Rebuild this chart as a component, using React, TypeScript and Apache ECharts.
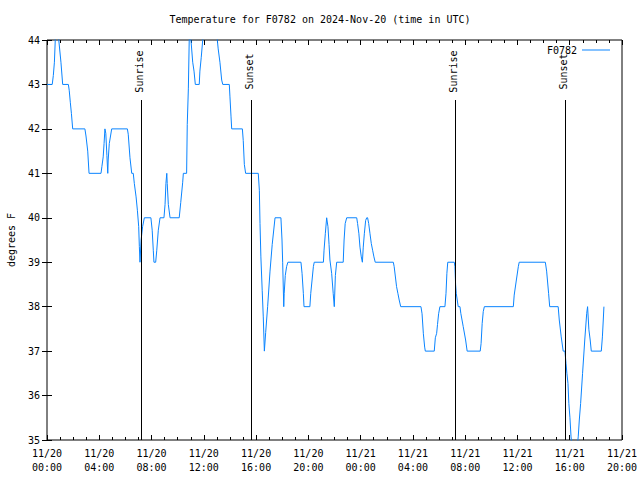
import React, { useEffect, useRef } from "react";
import * as echarts from "echarts";

// minutes since 2024-11-20 00:00 UTC
const timesMin = [
  0, 24, 29, 34, 38, 46, 54, 64, 72, 98, 102, 107, 112, 118, 174, 179, 187, 193, 248, 252,
  258, 262, 266, 270, 275, 279, 281, 286, 297, 369, 373, 381, 389, 396, 401, 409, 415, 421, 424, 427,
  432, 439, 447, 477, 483, 488, 491, 499, 504, 511, 519, 537, 542, 546, 550, 552, 557, 565, 607, 614,
  623, 626, 641, 644, 649, 653, 657, 661, 669, 675, 681, 699, 702, 708, 715, 730, 750, 770, 782, 786,
  794, 802, 807, 837, 840, 845, 848, 897, 901, 906, 912, 970, 975, 978, 982, 988, 993, 998, 1004, 1013,
  1024, 1034, 1047, 1074, 1079, 1082, 1087, 1089, 1094, 1100, 1106, 1166, 1171, 1177, 1180, 1207, 1211, 1217, 1223, 1227,
  1269, 1272, 1278, 1284, 1290, 1295, 1299, 1307, 1314, 1319, 1324, 1330, 1360, 1364, 1369, 1376, 1422, 1426, 1432, 1437,
  1443, 1448, 1452, 1457, 1463, 1468, 1472, 1477, 1483, 1489, 1495, 1501, 1507, 1590, 1594, 1605, 1611, 1617, 1624, 1717,
  1722, 1728, 1734, 1737, 1778, 1783, 1789, 1793, 1798, 1804, 1827, 1832, 1836, 1840, 1870, 1873, 1876, 1879, 1888, 1896,
  1900, 1911, 1922, 1929, 1989, 1993, 1998, 2003, 2008, 2141, 2145, 2155, 2164, 2168, 2288, 2294, 2303, 2308, 2347, 2352,
  2361, 2370, 2378, 2383, 2387, 2392, 2396, 2401, 2406, 2422, 2439, 2444, 2450, 2459, 2469, 2478, 2482, 2488, 2494, 2499,
  2545, 2550, 2554, 2557,
];
const tempsF = [
  43, 43, 43.2, 43.5, 44, 44.8, 44, 43.5, 43, 43, 42.87, 42.6, 42.35, 42, 42, 41.84, 41.5, 41, 41, 41.15,
  41.37, 41.67, 42, 41.9, 41.4, 41, 41.3, 41.67, 42, 42, 41.88, 41.35, 41, 41, 40.77, 40.47, 40.17, 39.8, 39.35, 39,
  39.5, 39.8, 40, 40, 39.72, 39.27, 39, 39, 39.27, 39.72, 40, 40, 40.3, 40.77, 41, 40.77, 40.3, 40, 40, 40.34,
  40.8, 41, 41, 42.1, 42.9, 44, 44.6, 44, 43.5, 43.3, 43, 43, 43.3, 43.6, 44, 45.2, 45.5, 45.2, 44, 43.8,
  43.5, 43.1, 43, 43, 42.72, 42.27, 42, 42, 41.74, 41.2, 41, 41, 40.62, 39.87, 39.12, 38.37, 37.77, 37, 37.42, 38,
  38.8, 39.4, 40, 40, 39.5, 39, 38, 38.3, 38.7, 38.9, 39, 39, 38.75, 38.3, 38, 38, 38.3, 38.6, 38.9, 39,
  39, 39.27, 39.65, 40, 39.8, 39.4, 39.05, 38.75, 38.3, 38, 38.7, 39, 39, 39.5, 39.87, 40, 40, 39.87, 39.64, 39.34,
  39.12, 39, 39.34, 39.64, 39.94, 40, 40, 39.87, 39.64, 39.42, 39.27, 39.12, 39, 39, 38.9, 38.45, 38.3, 38.15, 38, 38,
  37.84, 37.39, 37.09, 37, 37, 37.3, 37.4, 37.6, 37.84, 38, 38, 38.3, 38.75, 39, 39, 38.9, 38.5, 38.3, 38, 38,
  37.85, 37.55, 37.25, 37, 37, 37.17, 37.62, 37.89, 38, 38, 38.26, 38.6, 38.9, 39, 39, 38.8, 38.3, 38, 38, 37.7,
  37.32, 37, 37, 36.72, 36.5, 36.27, 35.82, 35.5, 35.07, 34.3, 35.07, 35.45, 35.82, 36.5, 37.25, 37.85, 38, 37.48, 37.25, 37,
  37, 37.32, 37.7, 38,
];
const sunEventNames = ["Sunrise", "Sunset", "Sunrise", "Sunset"];
const sunEventMin = [432, 938, 1874, 2379];
const seriesName = "F0782";
const titleText = "Temperature for F0782 on 2024-Nov-20 (time in UTC)";
const yTickMin = 35;
const yTickMax = 44;
const xMinMin = 0;
const xMaxMin = 2640;
const xStepMin = 240;

const MONO = "'DejaVu Sans Mono', monospace";

function xLabel(v: number): string {
  const day = 20 + Math.floor(v / 1440);
  const hh = Math.round((v % 1440) / 60);
  return `11/${day}\n${String(hh).padStart(2, "0")}:00`;
}

export default function App() {
  const ref = useRef<HTMLDivElement>(null);
  useEffect(() => {
    if (!ref.current) return;
    const chart = echarts.init(ref.current, undefined, { renderer: "svg" });
    const data = timesMin.map((t, i) => [t, tempsF[i]]);
    const lineTop = 42.65;
    const labelY = 43.29;
    const xBase = {
      type: "value" as const,
      min: xMinMin,
      max: xMaxMin,
      interval: xStepMin,
      splitLine: { show: false },
      axisLine: { show: false },
      axisTick: { show: true, inside: true, length: 5, lineStyle: { color: "#000" } },
      minorTick: { show: true, splitNumber: 4, length: 3, lineStyle: { color: "#000" } },
    };
    const yBase = {
      type: "value" as const,
      min: yTickMin,
      max: yTickMax,
      interval: 1,
      splitLine: { show: false },
      axisLine: { show: false },
      axisTick: { show: true, inside: true, length: 5, lineStyle: { color: "#000" } },
    };
    chart.setOption({
      animation: false,
      backgroundColor: "#fff",
      title: {
        text: titleText,
        left: "center",
        top: 9,
        textStyle: { fontFamily: MONO, fontSize: 10, fontWeight: "normal", color: "#000" },
      },
      legend: {
        data: [seriesName],
        right: 25,
        top: 40,
        align: "right",
        icon: "rect",
        itemWidth: 28,
        itemHeight: 1,
        itemGap: 6,
        textStyle: { fontFamily: MONO, fontSize: 10, color: "#000" },
      },
      grid: {
        left: 47,
        right: 18,
        top: 40,
        bottom: 40,
        outerBoundsMode: "none",
        containLabel: false,
        show: true,
        borderColor: "#000",
        borderWidth: 1,
        backgroundColor: "transparent",
      },
      xAxis: [
        {
          ...xBase,
          position: "bottom",
          axisLabel: {
            formatter: xLabel,
            fontFamily: MONO,
            fontSize: 10,
            color: "#000",
            lineHeight: 14,
            margin: 6,
          },
        },
        { ...xBase, position: "top", axisLabel: { show: false } },
      ],
      yAxis: [
        {
          ...yBase,
          position: "left",
          name: "degrees F",
          nameLocation: "middle",
          nameGap: 31,
          nameTextStyle: { fontFamily: MONO, fontSize: 10, color: "#000" },
          axisLabel: { fontFamily: MONO, fontSize: 10, color: "#000", margin: 7 },
        },
        { ...yBase, position: "right", axisLabel: { show: false } },
      ],
      series: [
        {
          name: seriesName,
          type: "line",
          data,
          showSymbol: false,
          symbol: "none",
          clip: true,
          color: "#0a84ff",
          lineStyle: { color: "#0a84ff", width: 1 },
          markLine: {
            silent: true,
            symbol: "none",
            label: { show: false },
            lineStyle: { color: "#000", width: 1, type: "solid" },
            data: sunEventMin.map((t) => [{ coord: [t, yTickMin] }, { coord: [t, lineTop] }]),
          },
          markPoint: {
            silent: true,
            symbol: "circle",
            symbolSize: 0,
            data: sunEventMin.map((t, i) => ({
              coord: [t, labelY],
              label: {
                show: true,
                formatter: sunEventNames[i],
                rotate: 90,
                position: "inside",
                offset: [0, -2],
                fontFamily: MONO,
                fontSize: 10,
                color: "#000",
              },
            })),
          },
        },
      ],
    });
    return () => chart.dispose();
  }, []);
  return <div ref={ref} style={{ width: 640, height: 480, position: "absolute", left: 0, top: 0 }} />;
}
